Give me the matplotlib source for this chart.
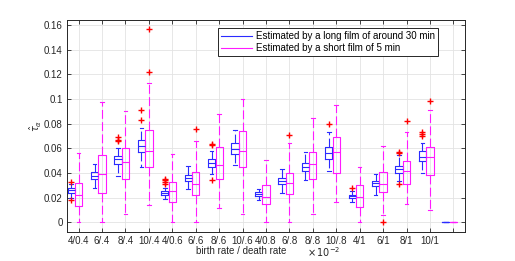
import numpy as np
import matplotlib
matplotlib.use('Agg')
import matplotlib.pyplot as plt
from matplotlib.lines import Line2D

plt.rcParams['font.family'] = ['Liberation Sans', 'DejaVu Sans']
plt.rcParams['mathtext.fontset'] = 'dejavusans'

# Tick labels (17th slot is unlabeled)
labels = ['4/0.4', '6/.4', '8/.4', '10/.4', '4/0.6', '6/.6', '8/.6', '10/.6',
          '4/0.8', '6/.8', '8/.8', '10/.8', '4/1', '6/1', '8/1', '10/1', '']

# Long film (blue) box statistics
long_whislo = [0.020, 0.0276, 0.0376, 0.0446, 0.019, 0.0268, 0.0392, 0.0465,
               0.0181, 0.024, 0.0343, 0.0414, 0.0165, 0.0222, 0.0332, 0.0397, 0.0]
long_q1 = [0.024, 0.0349, 0.0473, 0.057, 0.0219, 0.0332, 0.0451, 0.0551,
           0.0211, 0.0311, 0.0416, 0.0514, 0.0197, 0.0292, 0.0403, 0.050, 0.0]
long_med = [0.026, 0.0378, 0.0514, 0.0622, 0.0235, 0.036, 0.0484, 0.0597,
            0.023, 0.0338, 0.0451, 0.0565, 0.0211, 0.0316, 0.043, 0.0532, 0.0]
long_q3 = [0.028, 0.0405, 0.0535, 0.067, 0.0249, 0.0384, 0.0511, 0.064,
           0.0246, 0.0362, 0.0478, 0.0608, 0.0224, 0.0338, 0.0459, 0.0576, 0.0]
long_whishi = [0.031, 0.047, 0.0603, 0.0762, 0.028, 0.0457, 0.0581, 0.0749,
               0.0273, 0.043, 0.0568, 0.0732, 0.0249, 0.0395, 0.0546, 0.064, 0.0]
long_fliers = [[0.033, 0.018], [], [0.069, 0.0665, 0.0655], [0.0914, 0.0827],
               [0.035, 0.034, 0.033, 0.031], [], [0.0638, 0.0627, 0.0346], [],
               [], [], [], [0.0795],
               [0.0276], [], [0.0573, 0.0562, 0.0311], [0.073, 0.0716, 0.0697], []]

# Short film (magenta) box statistics
short_whislo = [0.0, 0.0, 0.0068, 0.0143, 0.0, 0.0, 0.0116, 0.0068,
                0.0, 0.0, 0.0068, 0.0162, 0.0, 0.006, 0.0146, 0.010, 0.0]
short_q1 = [0.0135, 0.0235, 0.0349, 0.0446, 0.0162, 0.0222, 0.0349, 0.0446,
            0.0146, 0.0227, 0.0354, 0.040, 0.0127, 0.0243, 0.0308, 0.0381, 0.0]
short_med = [0.0219, 0.0389, 0.0489, 0.0581, 0.0251, 0.0308, 0.0465, 0.0578,
             0.0203, 0.0314, 0.047, 0.0573, 0.0208, 0.0311, 0.0414, 0.0527, 0.0]
short_q3 = [0.0319, 0.0543, 0.0605, 0.0749, 0.0324, 0.0411, 0.0608, 0.0743,
            0.0303, 0.0397, 0.057, 0.0692, 0.0303, 0.0405, 0.0495, 0.0608, 0.0]
short_whishi = [0.0565, 0.0976, 0.090, 0.1132, 0.0551, 0.0657, 0.0876, 0.0997,
                0.0508, 0.0643, 0.0843, 0.0954, 0.0446, 0.0622, 0.0735, 0.0914, 0.0]
short_fliers = [[], [], [], [0.1219, 0.1565], [], [0.076], [], [],
                [], [0.0708], [], [],
                [], [0.0], [0.0822], [0.0984], []]


def make_stats(wlo, q1, med, q3, whi, fl):
    return [dict(whislo=a, q1=b, med=c, q3=d, whishi=e, fliers=f)
            for a, b, c, d, e, f in zip(wlo, q1, med, q3, whi, fl)]


long_stats = make_stats(long_whislo, long_q1, long_med, long_q3, long_whishi, long_fliers)
short_stats = make_stats(short_whislo, short_q1, short_med, short_q3, short_whishi, short_fliers)

pos = np.arange(1, len(labels) + 1)
w = 0.31
dash = (0, (8, 3))
lw = 0.8
fs = 7

fig = plt.figure(figsize=(5.15, 2.61), dpi=100)
ax = fig.add_axes([0.130, 0.111, 0.773, 0.812])

for stats, p, col in [(long_stats, pos - 0.32, '#2b2bff'), (short_stats, pos, '#ff1aff')]:
    ax.bxp(stats, positions=p, widths=w, showfliers=True, manage_ticks=False,
           boxprops=dict(color=col, lw=lw),
           medianprops=dict(color=col, lw=lw),
           whiskerprops=dict(color=col, lw=lw, linestyle=dash),
           capprops=dict(color=col, lw=lw),
           flierprops=dict(marker='+', markeredgecolor='red', markersize=5,
                           markeredgewidth=1.0, linestyle='none'))

ax.set_xlim(0.5, 17.5)
ax.set_ylim(-0.008, 0.164)
ax.set_xticks(pos)
ax.set_xticklabels(labels)
ax.set_yticks(np.arange(0, 0.161, 0.02))
ax.set_yticklabels(['0', '0.02', '0.04', '0.06', '0.08', '0.1', '0.12', '0.14', '0.16'])

axcol = '#262626'
ax.tick_params(direction='in', length=3, width=0.6, colors=axcol, labelsize=fs,
               top=True, right=True, pad=3)
for s in ax.spines.values():
    s.set_color(axcol)
    s.set_linewidth(0.7)
ax.grid(True, color='#e3e3e3', lw=0.6)
ax.set_axisbelow(True)

ax.set_xlabel('birth rate / death rate', fontsize=fs, color=axcol)
ax.xaxis.set_label_coords(0.437, -0.065)
ax.text(0.603, -0.095, r'$\times\,10^{-2}$', transform=ax.transAxes,
        fontsize=fs, color=axcol, ha='left', va='center')
ax.set_ylabel(r'$\hat{\tau}_\alpha$', fontsize=fs, color=axcol)
ax.yaxis.set_label_coords(-0.058, 0.5)

handles = [Line2D([], [], color='#2b2bff', lw=lw),
           Line2D([], [], color='#ff1aff', lw=lw)]
leg = ax.legend(handles, ['Estimated by a long film of around 30 min',
                          'Estimated by a short film of 5 min'],
                loc='upper right', bbox_to_anchor=(0.932, 0.962), borderaxespad=0,
                fontsize=fs, fancybox=False, framealpha=1, edgecolor=axcol,
                handlelength=3.2, handletextpad=0.4, borderpad=0.3,
                labelspacing=0.2)
leg.get_frame().set_linewidth(0.7)

fig.savefig('out.png', dpi=100)
